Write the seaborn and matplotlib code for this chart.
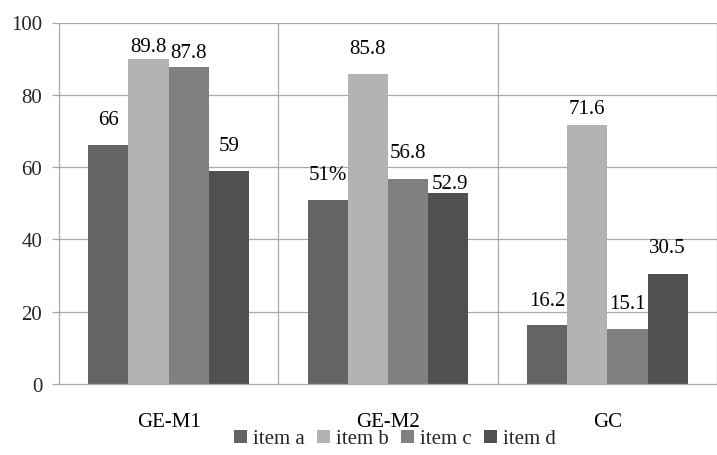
import matplotlib
matplotlib.use("Agg")
import matplotlib.pyplot as plt
import seaborn as sns
import pandas as pd
from matplotlib.patches import Patch

categories = ["GE-M1", "GE-M2", "GC"]
items = ["item a", "item b", "item c", "item d"]
item_a = [66, 51, 16.2]
item_b = [89.8, 85.8, 71.6]
item_c = [87.8, 56.8, 15.1]
item_d = [59, 52.9, 30.5]
label_a = ["66", "51%", "16.2"]
label_b = ["89.8", "85.8", "71.6"]
label_c = ["87.8", "56.8", "15.1"]
label_d = ["59", "52.9", "30.5"]
y_ticks = [0, 20, 40, 60, 80, 100]

colors = ["#646464", "#b3b3b3", "#808080", "#505050"]
# label offsets above bar top, in pixels (dx, dy)
offsets = [
    [(0, 26), (0, 25), (0, 25)],
    [(0, 13), (0, 25), (0, 17)],
    [(0, 14), (0, 26), (0, 26)],
    [(0, 25), (2, 9), (0, 26)],
]

sns.set_theme(style="white")
plt.rcParams["font.family"] = "serif"
plt.rcParams["font.serif"] = ["Liberation Serif", "Times New Roman", "DejaVu Serif"]
FS = 15

rows = []
for it, vals in zip(items, [item_a, item_b, item_c, item_d]):
    for c, v in zip(categories, vals):
        rows.append({"category": c, "item": it, "value": v})
df = pd.DataFrame(rows)

fig = plt.figure(figsize=(7.17, 4.56), dpi=100)
ax = fig.add_axes([59 / 717, 1 - 385 / 456, 1 - 59 / 717, (385 - 23.5) / 456])

sns.barplot(data=df, x="category", y="value", hue="item", order=categories,
            hue_order=items, palette=colors, width=0.733, gap=0, saturation=1,
            ax=ax, legend=True, edgecolor="none", linewidth=0)

grid_c = "#a9a9a9"
ax.set_xlim(-0.5, 2.464)
ax.set_ylim(0, 100)
ax.set_yticks(y_ticks)
ax.set_yticklabels([str(t) for t in y_ticks], fontsize=FS)
for t in y_ticks[1:]:
    ax.axhline(t, color=grid_c, lw=0.9, zorder=0)
for xv in [0.5, 1.5, 2.5]:
    ax.axvline(xv, color=grid_c, lw=0.9, zorder=0)
ax.set_axisbelow(True)

ax.set_xticks([0, 1, 2])
ax.set_xticklabels(categories, fontsize=FS)
ax.set_xticks([-0.5, 0.5, 1.5, 2.5], minor=True)
ax.tick_params(axis="x", which="major", length=0, pad=20.5, colors="black")
ax.tick_params(axis="x", which="minor", length=5, width=0.9, color=grid_c)
ax.tick_params(axis="y", length=5, width=0.9, color=grid_c, pad=7, left=True)
ax.set_xlabel("")
ax.set_ylabel("")
for s in ["top", "right"]:
    ax.spines[s].set_visible(False)
for s in ["left", "bottom"]:
    ax.spines[s].set_color(grid_c)
    ax.spines[s].set_linewidth(0.9)

all_labels = [label_a, label_b, label_c, label_d]
for hi, cont in enumerate(ax.containers):
    for ci, bar in enumerate(cont):
        x = bar.get_x() + bar.get_width() / 2
        y = bar.get_height()
        dx, dy = offsets[hi][ci]
        ax.annotate(all_labels[hi][ci], (x, y), xytext=(dx, dy),
                    textcoords="offset pixels", ha="center", va="center",
                    fontsize=FS, color="black", annotation_clip=False)

if ax.get_legend() is not None:
    ax.get_legend().remove()
handles = [Patch(facecolor=c, edgecolor="none") for c in colors]
fig.legend(handles, items, loc="center", bbox_to_anchor=(395 / 717, 1 - 440 / 456),
           ncol=4, frameon=False, fontsize=FS, handlelength=0.6, handleheight=0.6,
           handletextpad=0.3, columnspacing=0.6, borderpad=0)

fig.savefig("out.png", dpi=100)
